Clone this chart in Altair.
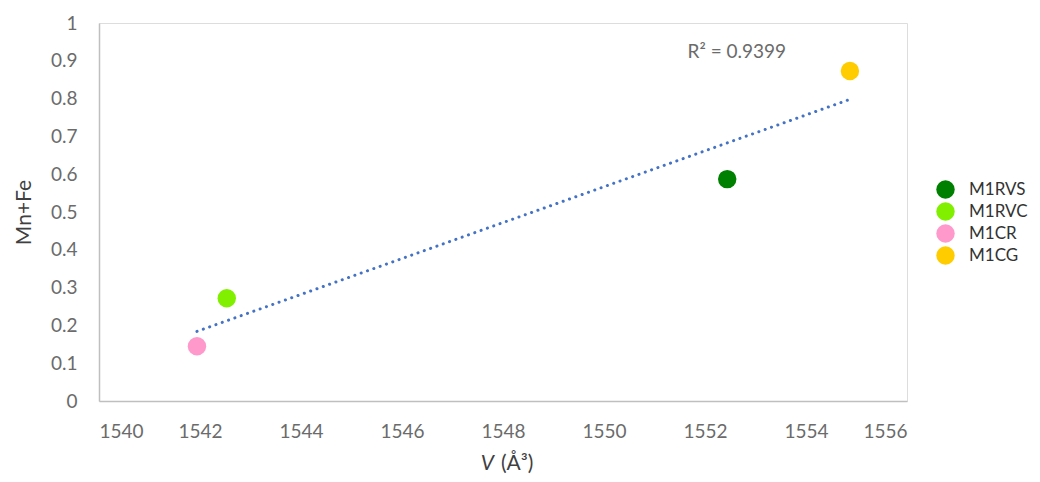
import altair as alt
import pandas as pd

samples = ["M1RVS", "M1RVC", "M1CR", "M1CG"]
volume = [1552.44, 1542.53, 1541.94, 1554.87]
mn_fe = [0.587, 0.272, 0.145, 0.873]
colors = ["#008000", "#80F000", "#FF99CC", "#FFCC00"]
x_ticks = [1540, 1542, 1544, 1546, 1548, 1550, 1552, 1554, 1556]
y_ticks = [0, 0.1, 0.2, 0.3, 0.4, 0.5, 0.6, 0.7, 0.8, 0.9, 1]
r2_label = "R² = 0.9399"
r2_pos = (1552.63, 0.923)

df = pd.DataFrame({"sample": samples, "V": volume, "MnFe": mn_fe})
ann = pd.DataFrame({"V": [r2_pos[0]], "MnFe": [r2_pos[1]], "t": [r2_label]})

FONT = "Lato"
W, H = 808, 378

xs = alt.Scale(domain=[1540, 1556], nice=False, zero=False)
ys = alt.Scale(domain=[0, 1], nice=False)

x_axis = alt.Axis(values=x_ticks, format="d", title=None, grid=False, ticks=False,
                  domainColor="#BFBFBF", domainWidth=1.5, labelFont=FONT, labelFontSize=19,
                  labelColor="#6B6B6B", labelPadding=21, labelOverlap=False)
y_axis = alt.Axis(values=y_ticks, format="~g", title="Mn+Fe", grid=False, ticks=False,
                  domainColor="#BFBFBF", domainWidth=1.5, labelFont=FONT, labelFontSize=19,
                  labelColor="#6B6B6B", labelPadding=22, labelOverlap=False,
                  titleFont=FONT, titleFontSize=21,
                  titleFontWeight="normal", titleColor="#404040", titlePadding=16)

X = alt.X("V:Q", scale=xs, axis=x_axis)
Y = alt.Y("MnFe:Q", scale=ys, axis=y_axis)

base = alt.Chart(df)

points = base.mark_circle(size=340, opacity=1).encode(
    x=X, y=Y,
    color=alt.Color("sample:N", scale=alt.Scale(domain=samples, range=colors),
                    legend=alt.Legend(title=None, orient="none", legendX=837, legendY=157,
                                      symbolType="circle", symbolSize=340, labelFont=FONT,
                                      labelFontSize=17, labelColor="#333333", rowPadding=3,
                                      labelOffset=14, symbolStrokeWidth=0)),
)

trend = base.transform_regression("V", "MnFe").mark_line(
    color="#4472C4", strokeWidth=3, strokeDash=[0.1, 6.6], strokeCap="round"
).encode(x=X, y=Y)

r2 = alt.Chart(ann).mark_text(font=FONT, fontSize=19, color="#6B6B6B", align="center",
                              baseline="middle").encode(x=X, y=Y, text="t:N")

xt1 = alt.Chart(ann).mark_text(font=FONT, fontSize=21, color="#404040", align="right",
                               baseline="middle", fontStyle="italic").encode(
    x=alt.value(395), y=alt.value(H + 63), text=alt.value("V"))
xt2 = alt.Chart(ann).mark_text(font=FONT, fontSize=21, color="#404040", align="left",
                               baseline="middle").encode(
    x=alt.value(402), y=alt.value(H + 63), text=alt.value("(Å³)"))

chart = alt.layer(trend, points, r2, xt1, xt2).properties(
    width=W, height=H,
    autosize=alt.AutoSizeParams(type="none"),
    padding={"left": 91, "top": 15, "right": 125, "bottom": 73},
).configure_view(stroke=None).configure(background="white")

chart.save("out.html", embed_options={"renderer": "svg", "actions": False})
